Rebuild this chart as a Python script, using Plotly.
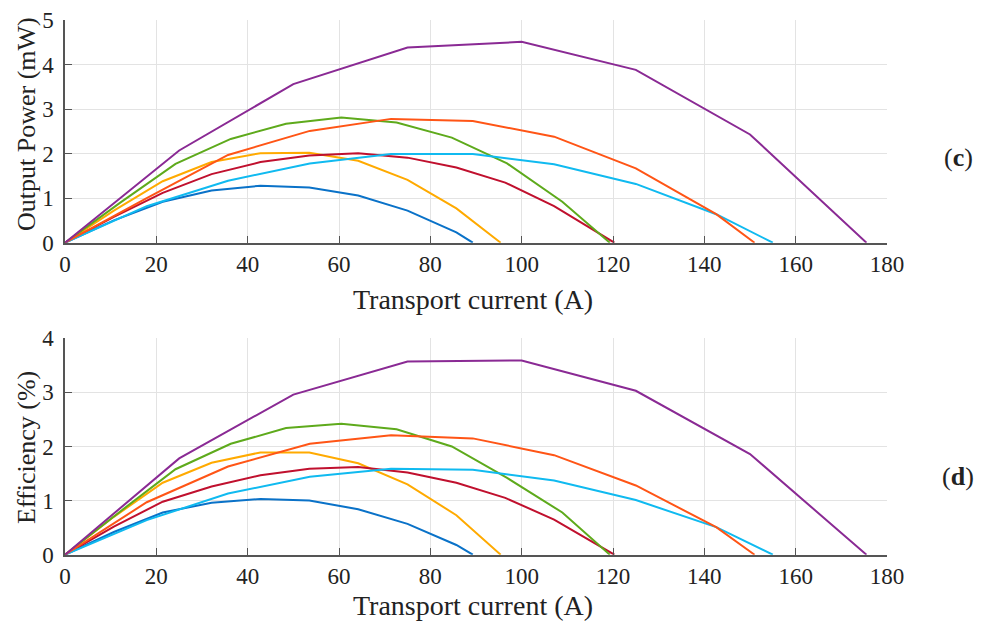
import plotly.graph_objects as go

# ---------------- data ----------------
x_blue = [0, 10.7, 21.4, 32.1, 42.8, 53.5, 64.2, 75.0, 85.7, 89.3]
P_blue = [0, 0.50, 0.92, 1.17, 1.28, 1.24, 1.06, 0.72, 0.23, 0]
E_blue = [0, 0.42, 0.78, 0.96, 1.03, 1.00, 0.84, 0.57, 0.18, 0]

x_yellow = [0, 10.7, 21.4, 32.1, 42.8, 53.5, 64.2, 75.0, 85.7, 95.4]
P_yellow = [0, 0.72, 1.38, 1.81, 2.01, 2.02, 1.84, 1.41, 0.77, 0]
E_yellow = [0, 0.70, 1.33, 1.70, 1.89, 1.89, 1.69, 1.30, 0.73, 0]

x_red = [0, 10.7, 21.4, 32.1, 42.8, 53.5, 64.2, 75.0, 85.7, 96.4, 107.1, 120.3]
P_red = [0, 0.58, 1.12, 1.54, 1.81, 1.96, 2.01, 1.91, 1.69, 1.35, 0.82, 0]
E_red = [0, 0.52, 0.98, 1.26, 1.47, 1.59, 1.62, 1.52, 1.33, 1.05, 0.65, 0]

x_green = [0, 12.1, 24.2, 36.3, 48.4, 60.5, 72.6, 84.7, 96.8, 108.9, 119.3]
P_green = [0, 0.90, 1.77, 2.33, 2.67, 2.81, 2.70, 2.36, 1.78, 0.92, 0]
E_green = [0, 0.80, 1.58, 2.05, 2.34, 2.42, 2.32, 2.00, 1.42, 0.78, 0]

x_cyan = [0, 17.9, 35.7, 53.6, 71.4, 89.3, 107.1, 125.0, 142.6, 155.0]
P_cyan = [0, 0.82, 1.39, 1.78, 1.99, 1.99, 1.76, 1.32, 0.64, 0]
E_cyan = [0, 0.64, 1.13, 1.44, 1.59, 1.57, 1.37, 1.01, 0.51, 0]

x_orange = [0, 17.9, 35.7, 53.6, 71.4, 89.3, 107.1, 125.0, 142.6, 151.0]
P_orange = [0, 1.00, 1.97, 2.51, 2.78, 2.73, 2.38, 1.67, 0.64, 0]
E_orange = [0, 0.97, 1.63, 2.05, 2.21, 2.15, 1.84, 1.28, 0.51, 0]

x_purple = [0, 25, 50, 75, 100, 125, 150, 175.5]
P_purple = [0, 2.07, 3.56, 4.38, 4.51, 3.88, 2.43, 0]
E_purple = [0, 1.78, 2.96, 3.57, 3.59, 3.03, 1.86, 0]

x_ticks = [0, 20, 40, 60, 80, 100, 120, 140, 160, 180]
p_ticks = [0, 1, 2, 3, 4, 5]
e_ticks = [0, 1, 2, 3, 4]

series = [
    (x_blue, P_blue, E_blue, "#0A72C8"),
    (x_yellow, P_yellow, E_yellow, "#FFAA00"),
    (x_red, P_red, E_red, "#C0102E"),
    (x_green, P_green, E_green, "#5EAA1C"),
    (x_cyan, P_cyan, E_cyan, "#10BAF0"),
    (x_orange, P_orange, E_orange, "#FF5516"),
    (x_purple, P_purple, E_purple, "#8A2A94"),
]

fig = go.Figure()
for xs, ps, es, col in series:
    fig.add_trace(go.Scatter(x=xs, y=ps, mode="lines", line=dict(color=col, width=2),
                             xaxis="x", yaxis="y", showlegend=False))
    fig.add_trace(go.Scatter(x=xs, y=es, mode="lines", line=dict(color=col, width=2),
                             xaxis="x2", yaxis="y2", showlegend=False))

FONT = "Liberation Serif"
tickfont = dict(family=FONT, size=23, color="#222222")
W, H = 982, 628
xdom = [65 / W, 887 / W]

common_x = dict(range=[0, 180], tickvals=x_ticks, ticks="inside", ticklen=7,
                tickcolor="#555555", showline=True, linecolor="#555555", linewidth=1.5,
                showgrid=True, gridcolor="#E3E3E3", gridwidth=1, zeroline=False,
                tickfont=tickfont, domain=xdom, fixedrange=True, automargin=False)
common_y = dict(ticks="inside", ticklen=7, tickcolor="#555555", showline=True,
                linecolor="#555555", linewidth=1.5, showgrid=True, gridcolor="#E3E3E3",
                gridwidth=1, zeroline=False, tickfont=tickfont, fixedrange=True,
                automargin=False, ticklabelstandoff=5)

fig.update_layout(
    width=W, height=H,
    margin=dict(l=0, r=0, t=0, b=0, pad=0),
    paper_bgcolor="white", plot_bgcolor="white",
    xaxis=dict(common_x, anchor="y"),
    yaxis=dict(common_y, range=[0, 5], tickvals=p_ticks,
               domain=[1 - 242.7 / H, 1 - 20 / H], anchor="x"),
    xaxis2=dict(common_x, anchor="y2"),
    yaxis2=dict(common_y, range=[0, 4], tickvals=e_ticks,
                domain=[1 - 554.7 / H, 1 - 338.3 / H], anchor="x2"),
)

def pap(px, py):
    return px / W, 1 - py / H

annots = []
for text, px, py, size, ang in [
    ("Transport current (A)", 473, 299, 28, 0),
    ("Transport current (A)", 473, 605, 28, 0),
    ("Output Power (mW)", 27, 124, 26, -90),
    ("Efficiency (%)", 27, 448, 26, -90),
    ("(<b>c</b>)", 958, 157, 26, 0),
    ("(<b>d</b>)", 958, 476, 26, 0),
]:
    x, y = pap(px, py)
    annots.append(dict(text=text, x=x, y=y, xref="paper", yref="paper",
                       showarrow=False, textangle=ang, xanchor="center", yanchor="middle",
                       font=dict(family=FONT, size=size, color="#222222")))
fig.update_layout(annotations=annots)

fig.write_html("out.html")
